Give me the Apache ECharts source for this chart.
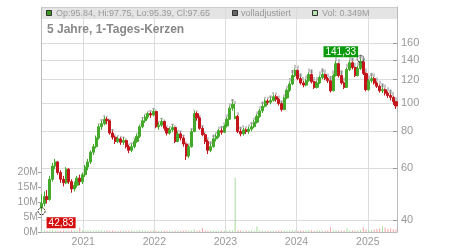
<!DOCTYPE html>
<html><head><meta charset="utf-8">
<script src="https://cdn.jsdelivr.net/npm/echarts@6/dist/echarts.min.js"></script>
<style>html,body{margin:0;padding:0;background:#fff}#c{width:450px;height:250px}</style>
</head><body><div id="c"></div>
<script>
// ---- data (one candle per two weeks) ----
const firstPeriod = Date.UTC(2020, 5, 1);
const periodDays = 14;
// [open, close, low, high]
const ohlc = [
[44.0,45.5,42.83,49.0],[45.5,48.0,44.5,50.0],[48.0,47.0,45.5,50.5],[47.0,55.0,46.5,56.5],[55.0,61.0,54.0,62.5],
[61.0,63.0,59.5,64.5],[63.0,58.0,57.0,63.5],[58.0,55.0,53.5,59.0],[55.0,53.5,52.0,56.5],[53.5,59.5,53.0,60.5],
[59.5,54.0,53.0,60.0],[54.0,51.0,49.5,55.0],[51.0,52.5,50.0,54.0],[52.5,55.5,51.5,56.5],[55.5,54.0,52.5,57.0],
[54.0,57.0,53.0,58.0],[57.0,60.5,56.0,61.5],[60.5,63.0,59.0,64.5],[63.0,68.0,62.0,69.0],[68.0,71.0,66.5,72.5],
[71.0,76.0,70.0,77.5],[76.0,83.0,75.0,84.5],[83.0,85.0,81.0,87.0],[85.0,88.0,84.0,90.0],[88.0,87.0,84.5,89.5],
[87.0,79.0,78.0,87.5],[79.0,76.5,75.0,80.5],[76.5,74.0,72.5,77.5],[74.0,75.5,73.0,77.0],[75.5,73.5,72.0,76.5],
[73.5,74.5,72.0,76.0],[74.5,71.0,70.0,75.0],[71.0,69.0,67.5,72.0],[69.0,71.0,68.0,72.5],[71.0,74.0,70.0,75.5],
[74.0,77.0,73.0,78.5],[77.0,83.0,76.0,84.0],[83.0,87.0,82.0,88.5],[87.0,89.5,85.5,91.0],[89.5,92.0,88.0,93.0],
[92.0,91.0,89.0,93.5],[91.0,93.5,90.0,95.0],[93.5,83.0,82.0,94.0],[83.0,84.0,81.0,86.0],[84.0,86.5,83.0,88.0],
[86.5,82.0,80.5,87.0],[82.0,79.0,77.5,83.0],[79.0,81.0,78.0,82.5],[81.0,82.5,79.5,84.0],[82.5,74.0,73.0,83.0],
[74.0,78.5,73.5,80.0],[78.5,76.0,74.5,79.5],[76.0,72.5,71.0,77.0],[72.5,66.0,64.0,73.0],[66.0,71.0,65.0,72.0],
[71.0,80.0,70.5,81.0],[80.0,92.0,79.5,94.0],[92.0,89.0,87.0,93.5],[89.0,82.0,81.0,90.0],[82.0,78.0,77.0,83.0],
[78.0,74.0,72.5,79.0],[74.0,69.0,67.0,75.0],[69.0,71.0,68.0,72.5],[71.0,75.5,70.5,76.5],[75.5,77.0,74.0,78.5],
[77.0,80.5,76.0,81.5],[80.5,79.5,78.0,82.0],[79.5,83.5,79.0,84.5],[83.5,88.0,82.5,89.5],[88.0,96.0,87.5,97.5],
[96.0,99.0,94.0,101.0],[88.5,90.0,88.0,99.5],[90.0,80.0,79.0,91.0],[80.0,78.5,77.0,81.5],[78.5,81.0,77.5,82.5],
[81.0,80.0,78.5,82.0],[80.0,81.5,78.5,83.0],[81.5,83.0,80.0,84.5],[83.0,86.0,82.0,87.5],[86.0,90.0,85.0,91.5],
[90.0,94.0,89.0,95.5],[94.0,97.5,92.5,99.0],[97.5,101.5,96.5,103.0],[101.5,100.5,98.5,103.0],[100.5,102.0,99.0,104.0],
[102.0,105.0,101.0,107.0],[105.0,103.0,101.0,106.5],[103.0,99.5,98.0,104.0],[99.5,95.0,93.5,100.0],[95.0,104.0,94.5,105.0],
[104.0,110.5,103.0,112.0],[110.5,116.0,109.0,118.0],[116.0,124.0,115.0,126.0],[124.0,129.0,122.5,131.0],[129.0,121.0,119.5,130.0],
[121.0,117.0,115.5,122.5],[117.0,115.0,113.0,119.0],[115.0,119.0,114.0,120.5],[119.0,125.0,118.0,127.0],[125.0,118.0,116.5,126.0],
[118.0,113.0,111.5,119.0],[113.0,117.0,112.0,119.0],[117.0,122.0,116.0,124.0],[122.0,125.0,120.5,127.0],[125.0,121.0,119.5,126.0],
[121.0,119.0,117.0,122.5],[119.0,110.0,108.5,120.0],[110.0,124.0,109.5,125.5],[124.0,136.0,123.0,139.0],[136.0,124.0,122.0,137.0],
[124.0,117.0,115.5,125.0],[117.0,113.0,111.5,118.5],[113.0,130.0,112.5,132.0],[130.0,137.0,128.5,139.5],[137.0,132.0,130.0,138.5],
[132.0,124.0,122.5,133.0],[124.0,131.0,123.0,133.5],[131.0,138.0,129.5,141.33],[138.0,126.0,124.5,139.0],[126.0,111.0,109.5,127.0],
[111.0,119.0,110.0,120.5],[119.0,121.0,117.0,123.0],[121.0,117.0,115.5,122.5],[117.0,114.0,112.5,118.5],[114.0,110.0,108.5,115.5],
[110.0,111.0,108.0,113.0],[111.0,108.0,106.0,112.0],[108.0,106.0,104.0,109.5],[106.0,104.5,102.0,107.5],[104.5,101.0,98.5,105.5],
[101.0,97.65,95.39,101.5]
];
// adjusted ("volladjustiert") highs, grey
const adjHigh = [
49.0,50.0,50.5,56.5,62.5,64.5,63.5,59.0,56.5,60.5,
60.0,55.0,54.0,56.5,57.0,58.0,61.5,64.5,69.0,72.5,
77.5,85.5,88.0,91.0,90.5,88.5,81.5,78.3,77.8,77.3,
76.8,75.8,72.8,73.3,76.3,79.3,85.0,89.5,92.0,94.0,
94.5,96.0,95.0,87.0,89.0,88.0,84.0,83.5,85.0,84.0,
81.0,80.5,78.0,74.0,73.0,82.0,95.0,94.5,91.0,84.0,
80.0,76.5,74.0,78.0,80.0,83.0,83.5,86.0,91.5,99.5,
103.0,101.5,93.0,83.0,84.0,83.5,84.5,86.0,89.0,93.5,
97.5,101.0,105.0,105.0,106.0,109.0,108.5,106.0,102.0,107.0,
114.5,121.5,129.5,135.0,134.0,126.0,122.5,124.0,131.0,130.0,
122.5,122.5,128.0,131.0,130.0,126.0,123.5,129.0,143.0,141.0,
129.0,122.0,136.0,143.5,142.5,137.0,137.5,145.0,143.0,131.0,
124.0,126.5,126.0,122.0,119.0,116.5,115.5,113.0,111.0,109.0,
104.5
];
// volume in millions
const volume = [
0.6,0.5,0.4,0.5,0.6,0.5,0.4,0.5,0.4,0.5,
0.4,0.6,0.5,0.4,1.5,0.5,0.4,0.6,0.5,0.4,
0.5,0.6,0.5,0.4,0.5,0.4,0.5,0.4,0.3,0.4,
0.5,0.4,0.4,0.5,0.4,0.5,0.6,0.4,0.5,0.4,
0.4,0.5,0.4,0.3,0.4,0.5,0.4,0.4,0.3,0.4,
0.5,0.4,0.4,0.6,0.5,0.4,0.9,0.4,0.5,1.3,
0.5,0.4,0.4,0.5,0.4,0.5,0.4,0.4,0.5,0.6,
0.5,18.0,0.6,0.5,0.4,0.5,0.4,0.5,0.4,1.8,
0.5,0.4,0.4,0.5,0.4,0.5,0.4,0.5,0.4,0.5,
0.4,0.5,0.6,0.5,0.4,0.5,0.4,0.5,0.6,0.5,
0.4,0.5,0.4,0.5,0.4,0.5,1.6,0.5,0.6,0.5,
0.4,0.5,1.3,0.6,0.5,0.4,0.6,0.7,1.6,0.8,
0.6,0.7,0.8,1.0,1.2,2.0,1.4,1.0,1.2,0.9,
0.8
];
const yearTicks = [Date.UTC(2021,0,1), Date.UTC(2022,0,1), Date.UTC(2023,0,1), Date.UTC(2024,0,1), Date.UTC(2025,0,1)];
const priceTicks = [40, 60, 80, 100, 120, 140, 160];
const volTicks = [0, 5, 10, 15, 20];
const legendLabels = ['Op:95.84, Hi:97.75, Lo:95.39, Cl:97.65', 'volladjustiert', 'Vol: 0.349M'];
const titleText = '5 Jahre, 1-Tages-Kerzen';

// ---- build ----
const DAY = 864e5;
const dates = ohlc.map((_, i) => firstPeriod + i * periodDays * DAY);
const UP = '#44a82a', DOWN = '#c3151b', GREY = '#8c8c8c';
const VUP = '#a6dc9c', VDOWN = '#f2a3a3';
const FONT = '"Liberation Sans", Arial, sans-serif';

const mainData = ohlc.map((r, i) => [dates[i], r[0], r[1], r[2], r[3]]);
// grey (adjusted) part only shows where it rises above the coloured candle
const greyData = ohlc.map((r, i) => [dates[i], r[3], adjHigh[i], r[3], adjHigh[i]]);
const volData = volume.map((v, i) => ({value: [dates[i], v], itemStyle: {color: ohlc[i][1] >= ohlc[i][0] ? VUP : VDOWN}}));

let maxIdx = 0, minIdx = 0;
ohlc.forEach((r, i) => { if (r[3] > ohlc[maxIdx][3]) maxIdx = i; if (r[2] < ohlc[minIdx][2]) minIdx = i; });
const fmtDe = v => v.toFixed(2).replace('.', ',');

const chart = echarts.init(document.getElementById('c'), null, {renderer: 'canvas'});
chart.setOption({
  animation: false,
  textStyle: {fontFamily: FONT},
  grid: {left: 41, right: 53, top: 7, bottom: 18},
  xAxis: {
    type: 'value', min: Date.UTC(2020,4,29), max: Date.UTC(2025,4,31),
    axisLine: {show: true, lineStyle: {color: '#bbb'}},
    axisTick: {show: false, customValues: yearTicks},
    axisLabel: {customValues: yearTicks, formatter: v => String(new Date(v).getUTCFullYear()), color: '#999', fontSize: 10.5, margin: 5, fontFamily: FONT},
    splitLine: {show: true, lineStyle: {color: '#dcdcdc', width: 1}}
  },
  yAxis: [{
    type: 'log', position: 'right', min: 36.4, max: 212,
    axisLine: {show: true, lineStyle: {color: '#bbb'}},
    axisTick: {show: true, inside: true, length: 4, customValues: priceTicks, lineStyle: {color: '#999'}},
    axisLabel: {customValues: priceTicks, formatter: v => String(Math.round(v)), color: '#999', fontSize: 11, margin: 4, fontFamily: FONT},
    splitLine: {show: true, lineStyle: {color: '#dcdcdc', width: 1}}
  }, {
    type: 'value', position: 'left', min: 0, max: 74.8,
    axisLine: {show: true, lineStyle: {color: '#bbb'}},
    axisTick: {show: true, length: 3, customValues: volTicks, lineStyle: {color: '#999'}},
    axisLabel: {customValues: volTicks, formatter: v => v + 'M', color: '#999', fontSize: 10.5, margin: 3, fontFamily: FONT},
    splitLine: {show: false}
  }],
  series: [{
    type: 'bar', yAxisIndex: 1, data: volData, barWidth: 1, silent: true
  }, {
    type: 'candlestick', yAxisIndex: 0, data: greyData, barWidth: 1.8, silent: true,
    dimensions: ['date','open','close','lowest','highest'],
    encode: {x: 0, y: [1,2,3,4]},
    itemStyle: {color: GREY, color0: GREY, borderColor: GREY, borderColor0: GREY, borderWidth: 0}
  }, {
    type: 'candlestick', yAxisIndex: 0, data: mainData, barWidth: 2.6,
    dimensions: ['date','open','close','lowest','highest'],
    encode: {x: 0, y: [1,2,3,4]},
    itemStyle: {color: UP, color0: DOWN, borderColor: UP, borderColor0: DOWN, borderWidth: 1},
    markPoint: {
      symbol: 'circle', symbolSize: 7, silent: true,
      itemStyle: {color: 'rgba(0,0,0,0)', borderColor: '#222', borderWidth: 1, borderType: [2, 1]},
      data: [{
        coord: [dates[maxIdx], ohlc[maxIdx][3]], value: ohlc[maxIdx][3],
        label: {show: true, formatter: p => fmtDe(p.value), position: [1.5, 2.5], align: 'right', verticalAlign: 'bottom',
          color: '#fff', backgroundColor: '#0b9a0b', padding: [1, 2, 0, 2], fontSize: 10, fontFamily: FONT}
      }, {
        coord: [dates[minIdx], ohlc[minIdx][2]], value: ohlc[minIdx][2],
        label: {show: true, formatter: p => fmtDe(p.value), position: [9, 10], align: 'left', verticalAlign: 'top',
          color: '#fff', backgroundColor: '#d40d0d', padding: [1, 2, 0, 2], fontSize: 10, fontFamily: FONT}
      }]
    }
  }],
  graphic: [
    {type: 'rect', z: -10, silent: true, shape: {x: 41, y: 7, width: 356, height: 12}, style: {fill: '#e4e4e4'}},
    {type: 'line', z: 10, silent: true, shape: {x1: 41, y1: 7.5, x2: 397, y2: 7.5}, style: {stroke: '#ccc', lineWidth: 1}},
    {type: 'rect', z: 10, shape: {x: 46.5, y: 10.5, width: 5, height: 5}, style: {fill: '#3a9a1a', stroke: '#333', lineWidth: 1}},
    {type: 'text', z: 10, x: 56, y: 13.5, style: {text: legendLabels[0], fill: '#999', font: '9px ' + FONT, verticalAlign: 'middle'}},
    {type: 'rect', z: 10, shape: {x: 232.5, y: 10.5, width: 5, height: 5}, style: {fill: '#666', stroke: '#333', lineWidth: 1}},
    {type: 'text', z: 10, x: 241, y: 13.5, style: {text: legendLabels[1], fill: '#999', font: '9px ' + FONT, verticalAlign: 'middle'}},
    {type: 'rect', z: 10, shape: {x: 312.5, y: 10.5, width: 5, height: 5}, style: {fill: '#b9e2b0', stroke: '#333', lineWidth: 1}},
    {type: 'text', z: 10, x: 322, y: 13.5, style: {text: legendLabels[2], fill: '#999', font: '9px ' + FONT, verticalAlign: 'middle'}},
    {type: 'text', z: 10, x: 47, y: 29.5, style: {text: titleText, fill: '#888', font: 'bold 12px ' + FONT, verticalAlign: 'middle'}}
  ]
});
</script></body></html>
